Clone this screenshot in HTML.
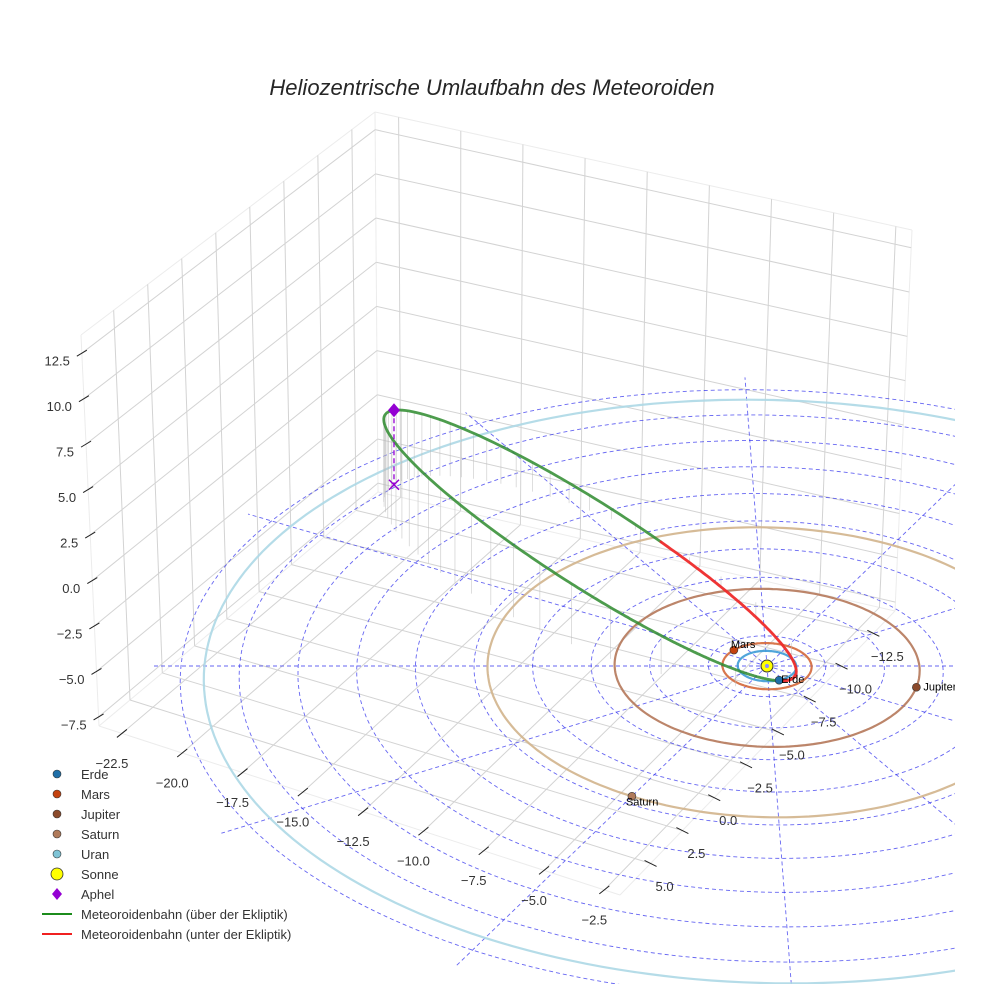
<!DOCTYPE html>
<html><head><meta charset="utf-8">
<style>
html,body{margin:0;padding:0;background:#fff;}
svg{display:block;font-family:"Liberation Sans",sans-serif;}
</style></head>
<body>
<svg id="chart" width="984" height="984" viewBox="0 0 984 984" xmlns="http://www.w3.org/2000/svg">
<defs><clipPath id="clipR"><rect x="0" y="0" width="955" height="984"/></clipPath></defs>
<rect width="984" height="984" fill="#fff"/>
<text x="492" y="95" text-anchor="middle" font-size="22" font-style="italic" fill="#262626">Heliozentrische Umlaufbahn des Meteoroiden</text>
<g id="box"></g>
<g id="eclip" clip-path="url(#clipR)"></g>
<g id="ticks"></g>
<g id="legend"></g>
</svg>
<script>
// ---- axis tick data ----
const xTicks = [-22.5,-20.0,-17.5,-15.0,-12.5,-10.0,-7.5,-5.0,-2.5];
const yTicks = [-12.5,-10.0,-7.5,-5.0,-2.5,0.0,2.5,5.0];
const zTicks = [-7.5,-5.0,-2.5,0.0,2.5,5.0,7.5,10.0,12.5];
// ---- planet data ----
const planetNames = ["Erde","Mars","Jupiter","Saturn","Uran"];
const planetRadii = [1.0,1.52,5.2,9.54,19.2];
const planetAngles = [68,224,15.5,120,10];
const planetOrbitColors = ["#3d9bd6","#d4683a","#b5785a","#d2b48c","#add8e6"];
const planetDotColors = ["#1f6fa8","#c4420f","#8b4a2b","#b07a5a","#7fc4d6"];
// ---- meteoroid orbital elements ----
const orbitA = [9.9];
const orbitE = [0.9];
const orbitInc = [34];
const orbitNode = [68];
const orbitPeri = [-28];
// ---- polar grid ----
const gridRadii = [2,4,6,8,10,12,14,16,18,20];
const gridAngles = [0,30,60,90,120,150,180,210,240,270,300,330];

const NS="http://www.w3.org/2000/svg";
function mk(tag,attrs,parent){const e=document.createElementNS(NS,tag);for(const k in attrs)e.setAttribute(k,attrs[k]);parent.appendChild(e);return e;}
const fmt=v=>(v<0?"\u2212":"")+Math.abs(v).toFixed(1);

// ---- box geometry (screen) ----
const xMin=-23.45,xMax=-1.85,yMin=-14.2,yMax=7.4,zMin=-8,zMax=13.5;
const Bb=[378,492],Lb=[99,726],Rb=[895,611],Fb=[620,895],Bt=[375,112],Lt=[81,335],Rt=[912,230];
function bil(p00,p10,p01,p11,u,v){return [
 p00[0]*(1-u)*(1-v)+p10[0]*u*(1-v)+p01[0]*(1-u)*v+p11[0]*u*v,
 p00[1]*(1-u)*(1-v)+p10[1]*u*(1-v)+p01[1]*(1-u)*v+p11[1]*u*v];}
const tx=x=>(x-xMin)/(xMax-xMin), ty=y=>(y-yMin)/(yMax-yMin), tz=z=>(z-zMin)/(zMax-zMin);
const floorP=(x,y)=>bil(Bb,Rb,Lb,Fb,tx(x),ty(y));
const leftP=(y,z)=>bil(Bb,Lb,Bt,Lt,ty(y),tz(z));
const rightP=(x,z)=>bil(Bb,Rb,Bt,Rt,tx(x),tz(z));
const box=document.getElementById('box');
function gl(a,b,name,col,w){const l=mk('line',{x1:a[0],y1:a[1],x2:b[0],y2:b[1],stroke:col||'#d3d3d3','stroke-width':w||1},box);
 
 }
[[Bb,Lb],[Bb,Rb],[Lb,Fb],[Rb,Fb],[Bb,Bt],[Lb,Lt],[Rb,Rt],[Bt,Lt],[Bt,Rt]].forEach(p=>gl(p[0],p[1],'pane-edge','#ececec',1));
xTicks.forEach(x=>{gl(floorP(x,yMin),floorP(x,yMax),'floor-gridline-x');gl(rightP(x,zMin),rightP(x,zMax),'right-wall-gridline-x');});
yTicks.forEach(y=>{gl(floorP(xMin,y),floorP(xMax,y),'floor-gridline-y');gl(leftP(y,zMin),leftP(y,zMax),'left-wall-gridline-y');});
zTicks.forEach(z=>{gl(leftP(yMin,z),leftP(yMax,z),'left-wall-gridline-z');gl(rightP(xMin,z),rightP(xMax,z),'right-wall-gridline-z');});

// ---- ticks ----
const tk=document.getElementById('ticks');
function tick(p,d,lab,off,anchor,name){
 const l=mk('line',{x1:p[0]-d[0],y1:p[1]-d[1],x2:p[0]+d[0],y2:p[1]+d[1],stroke:'#222','stroke-width':1},tk);
 
 
 const t=mk('text',{x:p[0]+off[0],y:p[1]+off[1],'font-size':13,fill:'#333','text-anchor':anchor,'dominant-baseline':'middle'},tk);
 t.textContent=lab;
 
 }
xTicks.forEach(x=>tick(floorP(x,yMax),[5,-4],fmt(x),[-10,31],'middle','x-axis'));
yTicks.forEach(y=>tick(floorP(xMax,y),[-6,-3],fmt(y),[14,24],'middle','y-axis'));
zTicks.forEach(z=>{const p=[Lb[0]+(Lt[0]-Lb[0])*tz(z),Lb[1]+(Lt[1]-Lb[1])*tz(z)];tick(p,[5,-3],fmt(z),[-12,9],'end','z-axis');});

// ---- data projection ----
const C=[767,666];
function proj(X,Y,Z){const px=C[0]+X*29.3+Y*1.16, py=C[1]+Y*15.2; const f=1+0.0003*(py-C[1]);
 return [C[0]+(px-C[0])*f, C[1]+(py-C[1])*f-Z*16*f];}
const d2r=Math.PI/180;
function circlePath(r){let s='';for(let k=0;k<=240;k++){const a=k/240*2*Math.PI;const p=proj(r*Math.cos(a),r*Math.sin(a),0);s+=(k?'L':'M')+p[0].toFixed(1)+' '+p[1].toFixed(1);}return s+'Z';}
const ec=document.getElementById('eclip');
gridRadii.forEach(r=>{const e=mk('path',{d:circlePath(r),fill:'none',stroke:'#3333ee','stroke-width':0.9,'stroke-dasharray':'4 3','stroke-opacity':0.75},ec);
 
 });
gridAngles.forEach(a=>{const p=proj(21*Math.cos(a*d2r),21*Math.sin(a*d2r),0);const e=mk('line',{x1:C[0],y1:C[1],x2:p[0],y2:p[1],stroke:'#3333ee','stroke-width':0.9,'stroke-dasharray':'4 3','stroke-opacity':0.75},ec);
 
 });
planetRadii.forEach((r,i)=>{const e=mk('path',{d:circlePath(r),fill:'none',stroke:planetOrbitColors[i],'stroke-width':2.2,'stroke-opacity':0.9},ec);
 
 });

// ---- meteoroid orbit ----
const a=orbitA[0],ecc=orbitE[0],inc=orbitInc[0]*d2r,Om=orbitNode[0]*d2r,w=orbitPeri[0]*d2r;
function orb(nu){const r=a*(1-ecc*ecc)/(1+ecc*Math.cos(nu));const u=w+nu;
 return [r*(Math.cos(Om)*Math.cos(u)-Math.sin(Om)*Math.sin(u)*Math.cos(inc)),
         r*(Math.sin(Om)*Math.cos(u)+Math.cos(Om)*Math.sin(u)*Math.cos(inc)),
         r*Math.sin(u)*Math.sin(inc)];}
for(let k=0;k<48;k++){const M=(k+0.5)/48*2*Math.PI;let E=M+ecc*Math.sin(M);for(let j=0;j<30;j++)E=E-(E-ecc*Math.sin(E)-M)/(1-ecc*Math.cos(E));
 const nu=2*Math.atan(Math.sqrt((1+ecc)/(1-ecc))*Math.tan(E/2));const q=orb(nu);const p1=proj(q[0],q[1],q[2]),p0=proj(q[0],q[1],0);
 const s=mk('line',{x1:p1[0],y1:p1[1],x2:p0[0],y2:p0[1],stroke:'#bbb','stroke-width':0.7,'stroke-opacity':0.7},ec);
 
 }
let segs=[],cur=null,curAbove=null;
for(let k=0;k<=720;k++){const nu=-Math.PI+k/720*2*Math.PI;const q=orb(nu);const above=q[2]>=0;const p=proj(q[0],q[1],q[2]);
 if(above!==curAbove){if(cur)cur.pts.push(p);cur={above,pts:[]};segs.push(cur);curAbove=above;}
 cur.pts.push(p);}
segs.forEach(s=>{const e=mk('path',{d:'M'+s.pts.map(p=>p[0].toFixed(1)+' '+p[1].toFixed(1)).join('L'),fill:'none',stroke:s.above?'#2e8b2e':'#ee2a2a','stroke-width':2.8,'stroke-opacity':s.above?0.85:0.95,'stroke-linecap':'round'},ec);
 
 });
const qa=orb(Math.PI);const pa=proj(qa[0],qa[1],qa[2]),pf=proj(qa[0],qa[1],0);
const al=mk('line',{x1:pa[0],y1:pa[1],x2:pf[0],y2:pf[1],stroke:'#9400d3','stroke-width':1.3,'stroke-dasharray':'5 3'},ec);


const ax=mk('path',{d:`M${pf[0]-5} ${pf[1]-5}L${pf[0]+5} ${pf[1]+5}M${pf[0]-5} ${pf[1]+5}L${pf[0]+5} ${pf[1]-5}`,stroke:'#9400d3','stroke-width':1.5},ec);


const ad=mk('path',{d:`M${pa[0]} ${pa[1]-7}L${pa[0]+6} ${pa[1]}L${pa[0]} ${pa[1]+7}L${pa[0]-6} ${pa[1]}Z`,fill:'#9400d3'},ec);


const sun=mk('circle',{cx:C[0],cy:C[1],r:6,fill:'#ffff00',stroke:'#333','stroke-width':1},ec);


mk('circle',{cx:C[0],cy:C[1],r:2,fill:'#8888ff'},ec);
planetNames.forEach((n,i)=>{const r=planetRadii[i],an=planetAngles[i]*d2r;const p=proj(r*Math.cos(an),r*Math.sin(an),0);
 const c=mk('circle',{cx:p[0],cy:p[1],r:4,fill:planetDotColors[i],stroke:'#333','stroke-width':0.6},ec);
 
 
 const t=mk('text',{x:p[0]+(n==='Mars'?-3:(n==='Saturn'?-6:(n==='Jupiter'?7:2))),y:p[1]+(n==='Mars'?-2:(n==='Saturn'?9:3)),'font-size':11,fill:'#000'},ec);
 t.textContent=n;
 
 });

// ---- legend ----
const legLabels=["Erde","Mars","Jupiter","Saturn","Uran","Sonne","Aphel","Meteoroidenbahn (über der Ekliptik)","Meteoroidenbahn (unter der Ekliptik)"];
const lg=document.getElementById('legend');
legLabels.forEach((lab,i)=>{const y=774+i*20;let m;
 if(i<5){m=mk('circle',{cx:57,cy:y,r:4,fill:planetDotColors[i],stroke:'#333','stroke-width':0.6},lg);}
 else if(i===5){m=mk('circle',{cx:57,cy:y,r:6,fill:'#ffff00',stroke:'#333','stroke-width':0.8},lg);}
 else if(i===6){m=mk('path',{d:`M57 ${y-6}L62 ${y}L57 ${y+6}L52 ${y}Z`,fill:'#9400d3'},lg);}
 else {m=mk('line',{x1:42,y1:y,x2:72,y2:y,stroke:i===7?'#1c8c1c':'#f02020','stroke-width':2},lg);}
 
 
 const t=mk('text',{x:81,y:y+5,'font-size':13,fill:'#333'},lg);t.textContent=lab;
 
 });
</script>
</body></html>
